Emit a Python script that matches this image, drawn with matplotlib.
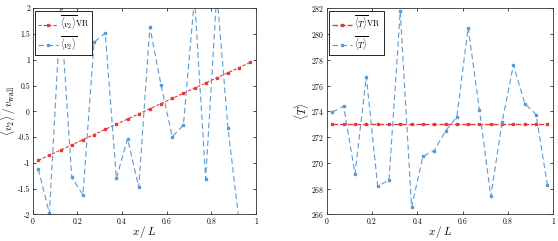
import matplotlib
matplotlib.use("Agg")
import matplotlib.pyplot as plt

plt.rcParams["font.family"] = "serif"
plt.rcParams["font.serif"] = ["cmr10", "DejaVu Serif"]
plt.rcParams["mathtext.fontset"] = "cm"
plt.rcParams["axes.formatter.use_mathtext"] = True

x = [0.025, 0.075, 0.125, 0.175, 0.225, 0.275, 0.325, 0.375, 0.425, 0.475,
     0.525, 0.575, 0.625, 0.675, 0.725, 0.775, 0.825, 0.875, 0.925, 0.975]

v2_vr = [-0.95, -0.85, -0.75, -0.65, -0.55, -0.45, -0.35, -0.25, -0.15, -0.05,
         0.05, 0.15, 0.25, 0.35, 0.45, 0.55, 0.65, 0.75, 0.85, 0.95]
v2 = [-1.12, -1.98, 2.0, -1.28, -1.62, 1.34, 1.52, -1.30, -0.53, -1.47,
      1.64, 0.51, -0.49, -0.27, 2.2, -1.31, 2.3, -0.33, -2.15, -2.5]

T_vr = [273.0] * 20
T = [273.95, 274.39, 269.15, 276.7, 268.22, 268.64, 281.75, 266.57, 270.5, 270.96,
     272.48, 273.57, 280.5, 274.08, 267.4, 273.17, 277.6, 274.6, 273.75, 268.3]

RED = "#e8393a"
BLUE = "#5b9bd5"

fig = plt.figure(figsize=(5.58, 2.41), dpi=100)
ax1 = fig.add_axes([0.0586, 0.11, 0.40, 0.856])
ax2 = fig.add_axes([0.5855, 0.11, 0.4056, 0.856])


def style(ax):
    ax.tick_params(direction="in", labelsize=5.5, length=2.5, width=0.5,
                   top=True, right=True, pad=2)
    for s in ax.spines.values():
        s.set_linewidth(0.6)
        s.set_color("#333333")
    ax.set_xlim(0, 1)
    ax.set_xticks([0, 0.2, 0.4, 0.6, 0.8, 1])
    ax.set_xticklabels(["0", "0.2", "0.4", "0.6", "0.8", "1"])
    ax.set_xlabel(r"$x\,/\,L$", fontsize=8, labelpad=-1)


def legend(ax):
    leg = ax.legend(loc="upper left", fontsize=6, fancybox=False,
                    edgecolor="black", framealpha=1, handlelength=2.4,
                    handletextpad=0.3, borderpad=0.3, labelspacing=0.2,
                    borderaxespad=0.3)
    leg.get_frame().set_linewidth(0.6)


ax1.plot(x, v2_vr, color=RED, ls=(0, (3, 1.5)), lw=0.8, marker="s", ms=2,
         mfc=RED, mec=RED, label=r"$\overline{\langle v_2\rangle}$VR")
ax1.plot(x, v2, color=BLUE, ls=(0, (5, 3)), lw=0.8, marker="s", ms=2,
         mfc=BLUE, mec=BLUE, label=r"$\overline{\langle v_2\rangle}$")
ax1.set_ylim(-2, 2)
ax1.set_yticks([-2, -1.5, -1, -0.5, 0, 0.5, 1, 1.5, 2])
ax1.set_yticklabels(["-2", "-1.5", "-1", "-0.5", "0", "0.5", "1", "1.5", "2"])
ax1.set_ylabel(r"$\langle v_2\rangle\,/\,v_{\mathrm{wall}}$", fontsize=8, labelpad=0)
style(ax1)
legend(ax1)

ax2.plot(x, T_vr, color=RED, ls=(0, (4, 1.5)), lw=1.0, marker="s", ms=2,
         mfc=RED, mec=RED, label=r"$\overline{\langle T\rangle}$VR")
ax2.plot(x, T, color=BLUE, ls=(0, (5, 3)), lw=0.8, marker="s", ms=2,
         mfc=BLUE, mec=BLUE, label=r"$\overline{\langle T\rangle}$")
ax2.set_ylim(266, 282)
ax2.set_yticks(range(266, 283, 2))
ax2.set_ylabel(r"$\langle T\rangle$", fontsize=8, labelpad=0)
style(ax2)
legend(ax2)

fig.savefig("out.png", dpi=100)
plt.close(fig)
